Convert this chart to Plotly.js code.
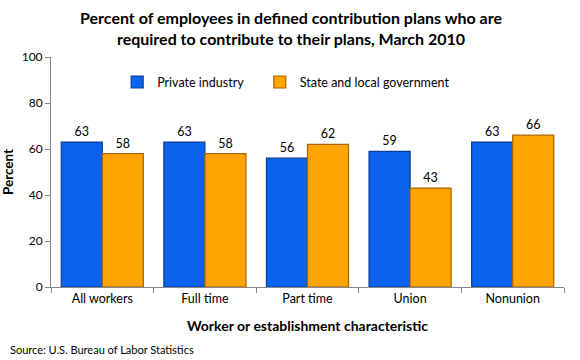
<!DOCTYPE html>
<html>
<head>
<meta charset="utf-8">
<script src="https://cdn.plot.ly/plotly-3.0.1.min.js"></script>
<style>html,body{margin:0;padding:0;background:#fff;}#chart{width:580px;height:360px;}</style>
</head>
<body>
<div id="chart"></div>
<script>
const categories = ["All workers", "Full time", "Part time", "Union", "Nonunion"];
const privateIndustry = [63, 63, 56, 59, 63];
const stateLocal = [58, 58, 62, 43, 66];
const yTicks = [0, 20, 40, 60, 80, 100];

const FONT = "Lato, 'Open Sans', sans-serif";

const traces = [
  {
    type: "bar", name: "Private industry", x: categories, y: privateIndustry,
    marker: {color: "#0a62ee", line: {color: "#0b3c94", width: 1.2}},
    text: privateIndustry.map(String), textposition: "outside",
    textfont: {family: FONT, size: 12.5, color: "#000"}, cliponaxis: false,
    legend: "legend"
  },
  {
    type: "bar", name: "State and local government", x: categories, y: stateLocal,
    marker: {color: "#ffa400", line: {color: "#a86400", width: 1.2}},
    text: stateLocal.map(String), textposition: "outside",
    textfont: {family: FONT, size: 12.5, color: "#000"}, cliponaxis: false,
    legend: "legend2"
  }
];

const legendBase = {
  orientation: "h", y: 0.955, xanchor: "left", yanchor: "top",
  font: {family: FONT, size: 12.5, color: "#000"}, bgcolor: "rgba(0,0,0,0)",
  itemwidth: 30
};

const layout = {
  width: 580, height: 360,
  margin: {l: 51, r: 16, t: 57, b: 73},
  paper_bgcolor: "#fff", plot_bgcolor: "#fff",
  font: {family: FONT, size: 11, color: "#000"},
  barmode: "group", bargap: 0.2, bargroupgap: 0,
  showlegend: true,
  legend: Object.assign({}, legendBase, {x: 0.129}),
  legend2: Object.assign({}, legendBase, {x: 0.407}),
  xaxis: {
    showline: true, linecolor: "#888", linewidth: 1,
    ticks: "outside", ticklen: 5, tickcolor: "#888", tickson: "boundaries",
    tickfont: {family: FONT, size: 12.5, color: "#000"},
    title: {text: "<b>Worker or establishment characteristic</b>", font: {family: FONT, size: 14, color: "#000"}, standoff: 16},
    showgrid: false, fixedrange: true
  },
  yaxis: {
    range: [0, 100], tickvals: yTicks, ticktext: yTicks.map(String),
    showline: true, linecolor: "#888", linewidth: 1,
    ticks: "outside", ticklen: 5, tickcolor: "#888",
    tickfont: {family: FONT, size: 12, color: "#000"},
    title: {text: "<b>Percent</b>", font: {family: FONT, size: 13.5, color: "#000"}, standoff: 4},
    showgrid: false, zeroline: false, fixedrange: true
  },
  annotations: [
    {
      text: "<b>Percent of employees in defined contribution plans who are<br>required to contribute to their plans, March 2010</b>",
      xref: "paper", yref: "paper", x: 0.468, y: 1.222, xanchor: "center", yanchor: "top",
      showarrow: false, align: "center",
      font: {family: FONT, size: 16, color: "#000"}
    },
    {
      text: "Source: U.S. Bureau of Labor Statistics", xref: "paper", yref: "paper",
      x: -0.084, y: -0.235, xanchor: "left", yanchor: "top", showarrow: false,
      font: {family: FONT, size: 11, color: "#000"}
    }
  ]
};

Plotly.newPlot("chart", traces, layout, {displayModeBar: false, staticPlot: true});
</script>
</body>
</html>
